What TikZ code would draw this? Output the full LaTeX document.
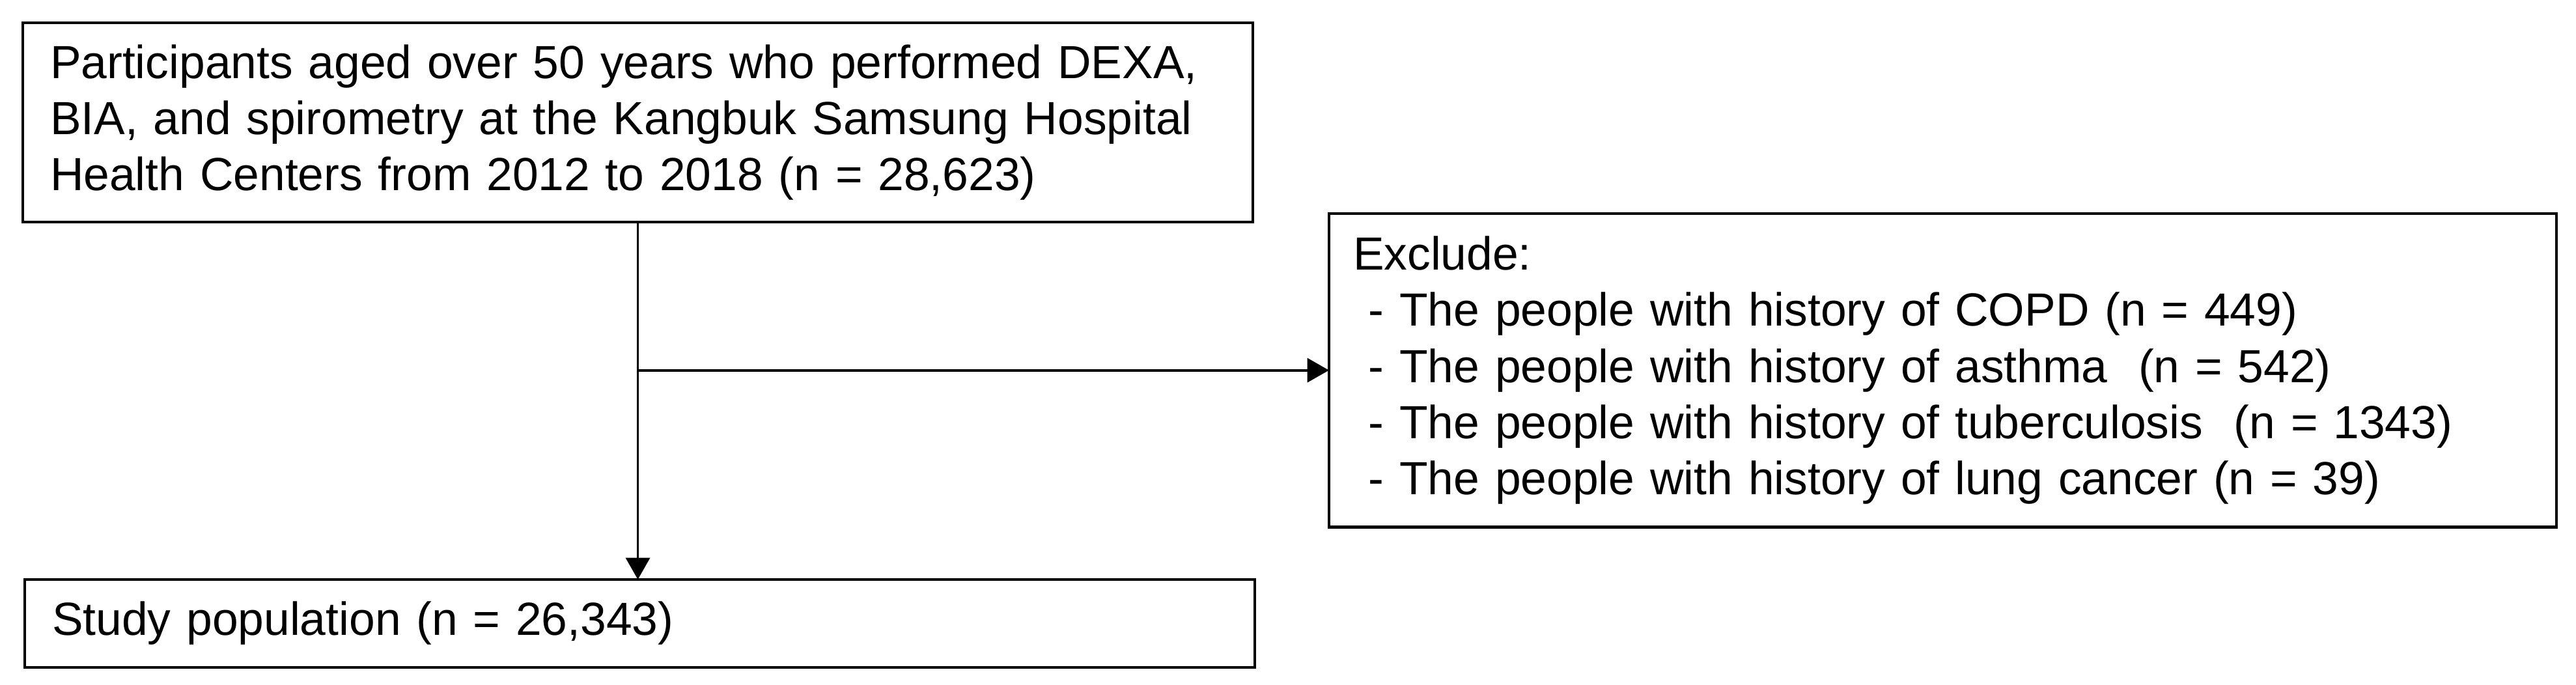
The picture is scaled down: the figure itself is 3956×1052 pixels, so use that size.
\documentclass[tikz,border=0pt]{standalone}
\usepackage{fontspec}
\setmainfont{Liberation Sans}
\usetikzlibrary{arrows.meta}

\begin{document}
\begin{tikzpicture}[x=0.01cm, y=-0.01cm,
    caixa/.style={draw, line width=1.3pt, rectangle, anchor=north west, outer sep=0pt,
        align=left, inner xsep=0.42cm, inner ysep=0pt, text width=18.04cm,
        font=\fontsize{20.3}{24.5}\selectfont},
    seta/.style={line width=1.1pt, -{Triangle[length=9.5pt,width=10.5pt]}}]
    % Area
    \useasboundingbox (0,0) rectangle (3956,1052);
    % Caixas
    \node[caixa, minimum height=3.06cm] (inicio) at (35,35)
        {Participants aged over 50 years who performed DEXA,\\
         BIA, and spirometry at the Kangbuk Samsung Hospital\\
         Health Centers from 2012 to 2018 (n = 28,623)};
    \node[caixa, minimum height=4.81cm, inner xsep=0.37cm, text width=18.1cm] (exclui) at (2041,328)
        {Exclude:\\
         \mbox{} - The people with history of COPD (n = 449)\\
         \mbox{} - The people with history of asthma\ \ (n = 542)\\
         \mbox{} - The people with history of tuberculosis\ \ (n = 1343)\\
         \mbox{} - The people with history of lung cancer (n = 39)};
    \node[caixa, minimum height=1.35cm] (estudo) at (38,890) {Study population (n = 26,343)};
    % Setas
    \coordinate (ramo) at (inicio.south |- exclui.west);
    \draw[seta] (inicio.south) -- (inicio.south |- estudo.north);
    \draw[seta] (ramo) -- (exclui.west);
\end{tikzpicture}
\end{document}
